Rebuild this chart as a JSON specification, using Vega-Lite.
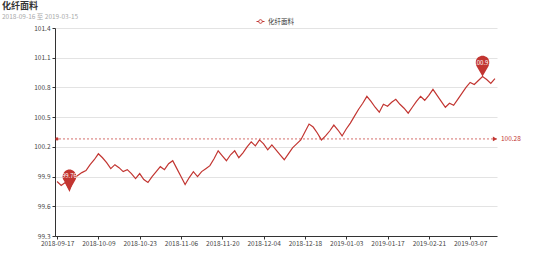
{
  "$schema": "https://vega.github.io/schema/vega-lite/v6.json",
  "autosize": {"type": "none"},
  "width": 442,
  "height": 208,
  "padding": {"left": 55, "top": 28, "right": 57, "bottom": 29},
  "background": "#ffffff",
  "config": {
    "font": "Noto Sans CJK SC",
    "view": {"stroke": null}
  },
  "title": {
    "text": "化纤面料",
    "subtitle": "2018-09-16 至 2019-03-15",
    "anchor": "start",
    "frame": "group",
    "dx": -53,
    "dy": 7,
    "offset": 4,
    "fontSize": 9,
    "fontWeight": "bold",
    "color": "#333333",
    "subtitleFontSize": 6.5,
    "subtitleColor": "#aaaaaa",
    "subtitlePadding": 3
  },
  "datasets": {
    "series": [
      {"date": "2018-09-17", "value": 99.85},
      {"date": "2018-09-18", "value": 99.81},
      {"date": "2018-09-19", "value": 99.84},
      {"date": "2018-09-20", "value": 99.76},
      {"date": "2018-09-21", "value": 99.88},
      {"date": "2018-09-25", "value": 99.91},
      {"date": "2018-09-26", "value": 99.94},
      {"date": "2018-09-27", "value": 99.96},
      {"date": "2018-09-28", "value": 100.02},
      {"date": "2018-10-08", "value": 100.07},
      {"date": "2018-10-09", "value": 100.13},
      {"date": "2018-10-10", "value": 100.09},
      {"date": "2018-10-11", "value": 100.04},
      {"date": "2018-10-12", "value": 99.98},
      {"date": "2018-10-15", "value": 100.02},
      {"date": "2018-10-16", "value": 99.99},
      {"date": "2018-10-17", "value": 99.95},
      {"date": "2018-10-18", "value": 99.97},
      {"date": "2018-10-19", "value": 99.93},
      {"date": "2018-10-22", "value": 99.88},
      {"date": "2018-10-23", "value": 99.93},
      {"date": "2018-10-24", "value": 99.87},
      {"date": "2018-10-25", "value": 99.84},
      {"date": "2018-10-26", "value": 99.90},
      {"date": "2018-10-29", "value": 99.95},
      {"date": "2018-10-30", "value": 100.00},
      {"date": "2018-10-31", "value": 99.97},
      {"date": "2018-11-01", "value": 100.03},
      {"date": "2018-11-02", "value": 100.06},
      {"date": "2018-11-05", "value": 99.98},
      {"date": "2018-11-06", "value": 99.90},
      {"date": "2018-11-07", "value": 99.82},
      {"date": "2018-11-08", "value": 99.89},
      {"date": "2018-11-09", "value": 99.95},
      {"date": "2018-11-12", "value": 99.90},
      {"date": "2018-11-13", "value": 99.95},
      {"date": "2018-11-14", "value": 99.98},
      {"date": "2018-11-15", "value": 100.01},
      {"date": "2018-11-16", "value": 100.08},
      {"date": "2018-11-19", "value": 100.16},
      {"date": "2018-11-20", "value": 100.11},
      {"date": "2018-11-21", "value": 100.06},
      {"date": "2018-11-22", "value": 100.12},
      {"date": "2018-11-23", "value": 100.16},
      {"date": "2018-11-26", "value": 100.09},
      {"date": "2018-11-27", "value": 100.14},
      {"date": "2018-11-28", "value": 100.20},
      {"date": "2018-11-29", "value": 100.25},
      {"date": "2018-11-30", "value": 100.21},
      {"date": "2018-12-03", "value": 100.27},
      {"date": "2018-12-04", "value": 100.23},
      {"date": "2018-12-05", "value": 100.17},
      {"date": "2018-12-06", "value": 100.22},
      {"date": "2018-12-07", "value": 100.17},
      {"date": "2018-12-10", "value": 100.12},
      {"date": "2018-12-11", "value": 100.07},
      {"date": "2018-12-12", "value": 100.13},
      {"date": "2018-12-13", "value": 100.19},
      {"date": "2018-12-14", "value": 100.23},
      {"date": "2018-12-17", "value": 100.27},
      {"date": "2018-12-18", "value": 100.35},
      {"date": "2018-12-19", "value": 100.43},
      {"date": "2018-12-20", "value": 100.40},
      {"date": "2018-12-21", "value": 100.34},
      {"date": "2018-12-24", "value": 100.27},
      {"date": "2018-12-25", "value": 100.31},
      {"date": "2018-12-26", "value": 100.36},
      {"date": "2018-12-27", "value": 100.42},
      {"date": "2018-12-28", "value": 100.37},
      {"date": "2019-01-02", "value": 100.31},
      {"date": "2019-01-03", "value": 100.38},
      {"date": "2019-01-04", "value": 100.44},
      {"date": "2019-01-07", "value": 100.51},
      {"date": "2019-01-08", "value": 100.58},
      {"date": "2019-01-09", "value": 100.64},
      {"date": "2019-01-10", "value": 100.71},
      {"date": "2019-01-11", "value": 100.66},
      {"date": "2019-01-14", "value": 100.60},
      {"date": "2019-01-15", "value": 100.55},
      {"date": "2019-01-16", "value": 100.63},
      {"date": "2019-01-17", "value": 100.61},
      {"date": "2019-01-18", "value": 100.65},
      {"date": "2019-01-21", "value": 100.68},
      {"date": "2019-01-22", "value": 100.63},
      {"date": "2019-01-23", "value": 100.59},
      {"date": "2019-01-24", "value": 100.54},
      {"date": "2019-01-25", "value": 100.60},
      {"date": "2019-01-28", "value": 100.66},
      {"date": "2019-01-29", "value": 100.71},
      {"date": "2019-01-30", "value": 100.67},
      {"date": "2019-02-21", "value": 100.72},
      {"date": "2019-02-22", "value": 100.78},
      {"date": "2019-02-25", "value": 100.72},
      {"date": "2019-02-26", "value": 100.66},
      {"date": "2019-02-27", "value": 100.60},
      {"date": "2019-02-28", "value": 100.64},
      {"date": "2019-03-01", "value": 100.62},
      {"date": "2019-03-04", "value": 100.68},
      {"date": "2019-03-05", "value": 100.74},
      {"date": "2019-03-06", "value": 100.80},
      {"date": "2019-03-07", "value": 100.85},
      {"date": "2019-03-08", "value": 100.83},
      {"date": "2019-03-11", "value": 100.87},
      {"date": "2019-03-12", "value": 100.91},
      {"date": "2019-03-13", "value": 100.88},
      {"date": "2019-03-14", "value": 100.84},
      {"date": "2019-03-15", "value": 100.89}
    ],
    "average": [
      {"date": "2018-09-17", "avg": 100.28, "end": "start"},
      {"date": "2019-03-15", "avg": 100.28, "end": "end"}
    ]
  },
  "data": {"name": "series"},
  "encoding": {
    "x": {
      "field": "date",
      "type": "ordinal",
      "scale": {"type": "point", "padding": 0.5},
      "axis": {
        "title": null,
        "values": ["2018-09-17", "2018-10-09", "2018-10-23", "2018-11-06", "2018-11-20", "2018-12-04", "2018-12-18", "2019-01-03", "2019-01-17", "2019-02-21", "2019-03-07"],
        "labelAngle": 0,
        "labelFontSize": 6.5,
        "labelColor": "#444444",
        "labelPadding": 1,
        "labelOverlap": false,
        "tickSize": 3,
        "tickColor": "#333333",
        "domainColor": "#333333",
        "grid": false
      }
    }
  },
  "layer": [
    {
      "mark": {"type": "line", "strokeWidth": 1.2, "interpolate": "linear"},
      "encoding": {
        "y": {
          "field": "value",
          "type": "quantitative",
          "scale": {"domain": [99.3, 101.4], "nice": false, "zero": false},
          "axis": {
            "title": null,
            "values": [99.3, 99.6, 99.9, 100.2, 100.5, 100.8, 101.1, 101.4],
            "tickCount": 10,
            "format": ".1f",
            "labelFontSize": 6.5,
            "labelColor": "#444444",
            "labelPadding": 2,
            "labelOverlap": false,
            "labelBound": false,
            "tickSize": 3,
            "tickColor": "#333333",
            "domainColor": "#333333",
            "grid": true,
            "gridColor": "#e3e3e3",
            "gridWidth": 1
          }
        },
        "color": {
          "datum": "化纤面料",
          "type": "nominal",
          "scale": {"range": ["#c23531"]},
          "legend": {
            "title": null,
            "orient": "none",
            "legendX": 201,
            "legendY": -11,
            "symbolType": "M-1,0L-0.45,0M0.45,0L1,0M0.45,0A0.45,0.45 0 1 1 -0.45,0A0.45,0.45 0 1 1 0.45,0",
            "symbolSize": 64,
            "symbolStrokeWidth": 1,
            "symbolFillColor": "#ffffff",
            "symbolStrokeColor": "#c23531",
            "labelFontSize": 6.5,
            "labelColor": "#333333",
            "labelOffset": 3
          }
        }
      }
    },
    {
      "transform": [
        {"joinaggregate": [{"op": "min", "field": "value", "as": "mn"}, {"op": "max", "field": "value", "as": "mx"}]},
        {"filter": "datum.value === datum.mn || datum.value === datum.mx"}
      ],
      "mark": {
        "type": "point",
        "shape": "M0,0L-0.6,-1.05A0.7,0.7 0 1 1 0.6,-1.05Z",
        "filled": true,
        "size": 390,
        "color": "#c23531",
        "opacity": 1
      },
      "encoding": {
        "y": {"field": "value", "type": "quantitative"}
      }
    },
    {
      "transform": [
        {"joinaggregate": [{"op": "min", "field": "value", "as": "mn"}, {"op": "max", "field": "value", "as": "mx"}]},
        {"filter": "datum.value === datum.mn || datum.value === datum.mx"}
      ],
      "mark": {
        "type": "text",
        "dy": -14,
        "fontSize": 6,
        "color": "#ffffff",
        "align": "center",
        "baseline": "middle"
      },
      "encoding": {
        "y": {"field": "value", "type": "quantitative"},
        "text": {"field": "value", "type": "quantitative", "format": ".2f"}
      }
    },
    {
      "data": {"name": "average"},
      "transform": [{"filter": "datum.end === 'start'"}],
      "mark": {"type": "rule", "color": "#c23531", "strokeDash": [2, 2], "strokeWidth": 0.8, "opacity": 0.9},
      "encoding": {
        "x": null,
        "y": {"field": "avg", "type": "quantitative"}
      }
    },
    {
      "data": {"name": "average"},
      "transform": [{"filter": "datum.end === 'start'"}],
      "mark": {"type": "point", "shape": "circle", "filled": true, "size": 10, "color": "#c23531", "opacity": 1},
      "encoding": {
        "y": {"field": "avg", "type": "quantitative"}
      }
    },
    {
      "data": {"name": "average"},
      "transform": [{"filter": "datum.end === 'end'"}],
      "mark": {"type": "point", "shape": "triangle-right", "filled": true, "size": 22, "color": "#c23531", "opacity": 1},
      "encoding": {
        "y": {"field": "avg", "type": "quantitative"}
      }
    },
    {
      "data": {"name": "average"},
      "transform": [{"filter": "datum.end === 'end'"}],
      "mark": {"type": "text", "align": "left", "baseline": "middle", "dx": 6, "fontSize": 6.5, "color": "#c23531"},
      "encoding": {
        "y": {"field": "avg", "type": "quantitative"},
        "text": {"field": "avg", "type": "quantitative", "format": ".2f"}
      }
    }
  ]
}
